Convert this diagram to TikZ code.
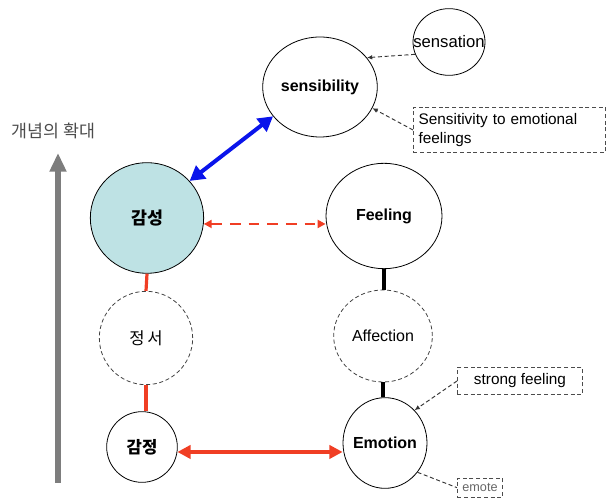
\documentclass[tikz,border=0pt]{standalone}
\usepackage{fontspec}
\setmainfont{Liberation Sans}
\newfontfamily\kr{Noto Sans CJK KR}
\usetikzlibrary{shapes.geometric,arrows.meta}

\definecolor{skyfill}{RGB}{190,226,228}
\definecolor{arrred}{RGB}{240,62,36}
\definecolor{arrblue}{RGB}{10,20,235}
\definecolor{scalegray}{RGB}{125,125,125}

\newcommand{\bubtext}[1]{\makebox[0pt]{#1}}

\tikzset{
  bubble/.style={ellipse, draw, line width=0.6pt, inner sep=0pt, font=\fontsize{12}{14}\selectfont\bfseries},
  faintbubble/.style={bubble, densely dashed, draw=black!75},
  notebox/.style={rectangle, draw=black!70, densely dashed, line width=0.5pt, align=left, font=\fontsize{11.5}{14}\selectfont},
  notelink/.style={densely dashed, line width=0.7pt, draw=black!80},
}

\begin{document}
\begin{tikzpicture}[x=0.75pt,y=0.75pt,yscale=-1,xscale=1]
\useasboundingbox (0,0) rectangle (607,498);

% Circle Nodes
\node [bubble, minimum width=54pt, minimum height=50pt, font=\fontsize{12.5}{15}\selectfont] (sensation) at (449,42) {\bubtext{sensation}};
\node [bubble, minimum width=86pt, minimum height=75pt] (sensibility) at (320,87) {\bubtext{sensibility}};
\node [bubble, fill=skyfill, minimum width=85pt, minimum height=83pt, font=\kr\fontsize{13}{15}\selectfont\bfseries] (gamseong) at (147,218) {\bubtext{감성}};
\node [bubble, minimum width=87pt, minimum height=79pt] (feeling) at (384,216) {\bubtext{Feeling}};
\node [faintbubble, minimum width=70pt, minimum height=70pt, font=\kr\fontsize{12.5}{15}\selectfont] (jeongseo) at (146,338) {\bubtext{정\hspace{2pt}서}};
\node [faintbubble, minimum width=74pt, minimum height=69pt, font=\fontsize{12}{14}\selectfont] (affection) at (383,336) {\bubtext{Affection}};
\node [bubble, minimum width=53pt, minimum height=53pt, font=\kr\fontsize{12.5}{15}\selectfont\bfseries] (gamjeong) at (142,447) {\bubtext{감정}};
\node [bubble, minimum width=63pt, minimum height=68pt] (emotion) at (385,443) {\bubtext{Emotion}};

% Note Boxes
\node [notebox, anchor=north west, text width=136pt, minimum height=34pt, inner sep=4pt] (sensnote) at (413,107) {Sensitivity to emotional\\feelings};
\node [notebox, minimum width=94pt, minimum height=20pt, inner sep=2pt] (strongnote) at (520,381) {strong feeling};
\node [notebox, anchor=north west, minimum width=34pt, minimum height=14pt, inner sep=2pt, text=black!60, font=\fontsize{9.5}{11}\selectfont] (emotenote) at (457,478) {emote};

% Scale Arrow
\node [text=black!70, font=\kr\fontsize{13}{15}\selectfont, anchor=west] (scalelabel) at (7,131) {개념의 확대};
\coordinate (scalebot) at (58,483);
\coordinate (scaletop) at (58,153);
\draw [scalegray, line width=5.2pt, -{Triangle[length=14pt,width=12pt]}] (scalebot) -- (scaletop);

% Connections
\draw [arrblue, line width=3pt, {Triangle[length=11pt,width=12pt]}-{Triangle[length=11pt,width=12pt]}] (gamseong.41) -- (sensibility.212);
\draw [arrred, line width=1.6pt, dash pattern=on 8pt off 6pt, {Triangle[length=6pt,width=6pt]}-{Triangle[length=6pt,width=6pt]}] (gamseong.-6) -- (gamseong.-6 -| feeling.west);
\draw [arrred, line width=3pt, {Triangle[length=10pt,width=10pt]}-{Triangle[length=10pt,width=10pt]}] (gamjeong.-8) -- (gamjeong.-8 -| emotion.west);
\draw [arrred, line width=2.4pt] (gamseong.south) -- (jeongseo.north);
\draw [arrred, line width=2.4pt] (jeongseo.south) -- (jeongseo.south |- gamjeong.north);
\draw [black, line width=3pt] (feeling.south) -- (feeling.south |- affection.north);
\draw [black, line width=3pt] (affection.south) -- (affection.south |- emotion.north);

% Note Links
\draw [notelink, -{Latex[length=4pt,width=3.5pt]}] (sensation.200) -- (sensibility.32);
\draw [notelink, -{Latex[length=4pt,width=3.5pt]}] (sensnote.west) -- (sensibility.-22);
\draw [notelink, -{Latex[length=4pt,width=3.5pt]}] (strongnote.west) -- (emotion.48);
\draw [notelink] (emotion.-42) -- (emotenote.west);

\end{tikzpicture}
\end{document}
